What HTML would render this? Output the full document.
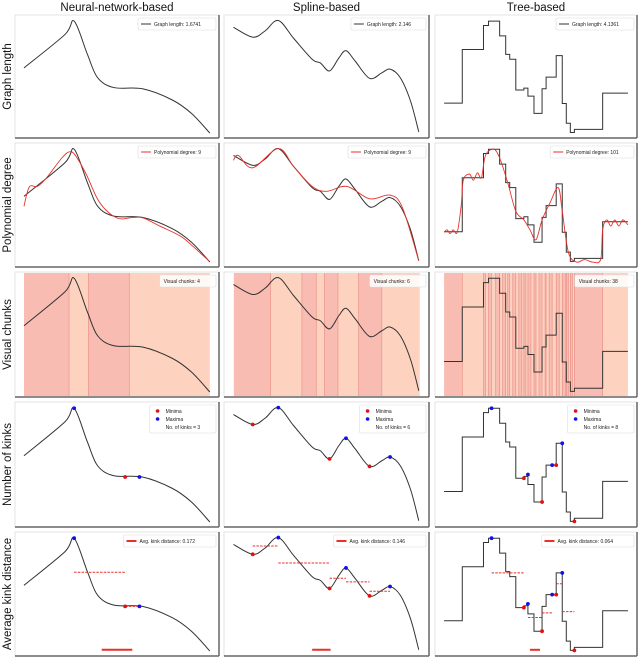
<!DOCTYPE html>
<html><head><meta charset="utf-8"><style>
body{margin:0;background:#fff;}
svg{display:block;font-family:"Liberation Sans",sans-serif;}
</style></head><body>
<svg id="fig" width="640" height="658" viewBox="0 0 640 658"></svg>
<script>
// ---- data (x: fraction across panel, y: fraction from panel top) ----
const colTitles = ["Neural-network-based","Spline-based","Tree-based"];
const rowTitles = ["Graph length","Polynomial degree","Visual chunks","Number of kinks","Average kink distance"];
const graphLengths = ["1.6741","2.146","4.1361"];
const polyDegrees = ["9","9","101"];
const chunkCounts = ["4","6","38"];
const kinkCounts = ["3","6","8"];
const avgKinkDist = ["0.172","0.146","0.064"];
const nnX = [0.044,0.244,0.29,0.355,0.405,0.485,0.625,0.77,0.865,0.955];
const nnY = [0.43,0.16,0.05,0.32,0.51,0.59,0.60,0.69,0.80,0.96];
const splX = [0.046,0.14,0.2,0.265,0.34,0.43,0.47,0.515,0.56,0.595,0.64,0.71,0.77,0.81,0.86,0.91,0.95];
const splY = [0.10,0.18,0.13,0.045,0.19,0.36,0.39,0.455,0.35,0.29,0.375,0.515,0.47,0.44,0.51,0.70,0.95];
const treeX = [0.045,0.135,0.24,0.265,0.32,0.35,0.37,0.40,0.44,0.46,0.49,0.53,0.55,0.60,0.63,0.65,0.67,0.69,0.83,0.955];
const treeY = [0.716,0.28,0.085,0.05,0.17,0.32,0.36,0.61,0.595,0.66,0.80,0.60,0.505,0.33,0.72,0.88,0.955,0.93,0.635];
const nnPolyX = [0.044,0.07,0.11,0.155,0.23,0.27,0.3,0.35,0.415,0.5,0.58,0.63,0.71,0.81,0.87,0.95];
const nnPolyY = [0.51,0.355,0.35,0.28,0.12,0.07,0.11,0.255,0.48,0.605,0.60,0.605,0.67,0.75,0.83,0.95];
const splPolyX = [0.046,0.07,0.14,0.265,0.34,0.43,0.5,0.6,0.71,0.81,0.87,0.95];
const splPolyY = [0.14,0.10,0.2,0.045,0.19,0.35,0.39,0.35,0.45,0.42,0.52,0.95];
const treePolyX = [0.045,0.06,0.075,0.09,0.11,0.13,0.14,0.17,0.19,0.21,0.23,0.25,0.29,0.32,0.36,0.40,0.44,0.47,0.50,0.53,0.57,0.61,0.63,0.66,0.70,0.74,0.78,0.82,0.83,0.85,0.87,0.89,0.91,0.93,0.955];
const treePolyY = [0.72,0.70,0.73,0.70,0.72,0.5,0.3,0.25,0.30,0.24,0.28,0.1,0.05,0.12,0.32,0.55,0.62,0.70,0.78,0.62,0.48,0.36,0.55,0.88,0.96,0.94,0.96,0.94,0.70,0.62,0.67,0.62,0.67,0.62,0.66];
const chunksNN = [0.044,0.265,0.36,0.56,0.955];
const chunksSpl = [0.048,0.227,0.38,0.45,0.49,0.556,0.657,0.77,0.955];
const chunksTree = [0.045,0.135,0.24,0.25,0.265,0.28,0.30,0.32,0.335,0.35,0.36,0.37,0.385,0.40,0.415,0.43,0.44,0.45,0.46,0.475,0.49,0.50,0.515,0.53,0.545,0.55,0.565,0.58,0.60,0.615,0.63,0.645,0.65,0.66,0.67,0.68,0.69,0.83,0.955];
const kinksNNX = [0.29,0.54,0.61], kinksNNY = [0.05,0.6,0.6], kinksNNT = ["max","min","max"];
const kinksSplX = [0.14,0.265,0.515,0.595,0.71,0.81], kinksSplY = [0.18,0.045,0.455,0.29,0.515,0.44], kinksSplT = ["min","max","min","max","min","max"];
const kinksTreeX = [0.28,0.44,0.46,0.53,0.58,0.60,0.63,0.69], kinksTreeY = [0.05,0.61,0.58,0.80,0.505,0.505,0.33,0.955], kinksTreeT = ["max","min","max","min","max","min","max","min"];
const avgBarX = [[0.425,0.575],[0.43,0.52],[0.47,0.52]];

const colL = [15,224,435], colR = [219,429,637];
const rowT = [15,143,272,402,532], rowB = [138,267,397,527,656];
const NS = "http://www.w3.org/2000/svg";
const svg = document.getElementById("fig");
function mk(tag, attrs, parent){const e=document.createElementNS(NS,tag);for(const k in attrs)e.setAttribute(k,attrs[k]);(parent||svg).appendChild(e);return e;}
function sx(c,v){return colL[c]+v*(colR[c]-colL[c]);}
function sy(r,v){return rowT[r]+v*(rowB[r]-rowT[r]);}
function smoothPath(c,r,xs,ys){
  const p=xs.map((x,i)=>[sx(c,x),sy(r,ys[i])]);
  let d="M"+p[0][0]+","+p[0][1];
  for(let i=0;i<p.length-1;i++){
    const p0=p[Math.max(0,i-1)],p1=p[i],p2=p[i+1],p3=p[Math.min(p.length-1,i+2)];
    const c1=[p1[0]+(p2[0]-p0[0])/6,p1[1]+(p2[1]-p0[1])/6];
    const c2=[p2[0]-(p3[0]-p1[0])/6,p2[1]-(p3[1]-p1[1])/6];
    d+=" C"+c1[0]+","+c1[1]+" "+c2[0]+","+c2[1]+" "+p2[0]+","+p2[1];
  }
  return d;
}
function stepPath(c,r,xs,ys){
  let d="M"+sx(c,xs[0])+","+sy(r,ys[0]);
  for(let i=1;i<xs.length;i++){
    d+=" H"+sx(c,xs[i]);
    if(i<ys.length) d+=" V"+sy(r,ys[i]);
  }
  return d;
}
function drawCurve(c,r,g){
  let d = c===0?smoothPath(c,r,nnX,nnY):c===1?smoothPath(c,r,splX,splY):stepPath(c,r,treeX,treeY);
  const p=mk("path",{d:d,fill:"none",stroke:"#333","stroke-width":1},g);
  
  
}
function legend(c,r,g,lines,sym){
  const w = Math.max(...lines.map(s=>s.length))*2.9+(sym?16:6)+4;
  const h = lines.length*8+4;
  const x = colR[c]-w-3, y = rowT[r]+3;
  const box=mk("rect",{x:x,y:y,width:w,height:h,fill:"#fff","fill-opacity":0.85,stroke:"#ddd","stroke-width":0.6,rx:1.5},g);
  
  
  lines.forEach((s,i)=>{
    const ty=y+8+i*8;
    if(sym&&sym[i]){
      if(sym[i].type==="line") mk("line",{x1:x+3,x2:x+13,y1:ty-2,y2:ty-2,stroke:sym[i].color,"stroke-width":sym[i].w||1},g);
      else mk("circle",{cx:x+8,cy:ty-2,r:1.8,fill:sym[i].color},g);
    }
    const t=mk("text",{x:x+(sym?16:4),y:ty,"font-size":5,fill:"#222"},g);
    t.textContent=s;
    
    
  });
}
// column & row titles
colTitles.forEach((s,c)=>{
  const t=mk("text",{x:(colL[c]+colR[c])/2,y:11,"font-size":11.5,"text-anchor":"middle",fill:"#111"});
  t.textContent=s;
  
  
});
rowTitles.forEach((s,r)=>{
  const cy=(rowT[r]+rowB[r])/2;
  const t=mk("text",{x:0,y:0,"font-size":11.5,"text-anchor":"middle",fill:"#111",transform:"translate(11,"+cy+") rotate(-90)"});
  t.textContent=s;
  
  
});
const redCurves=[[nnPolyX,nnPolyY],[splPolyX,splPolyY],[treePolyX,treePolyY]];
const chunkSets=[chunksNN,chunksSpl,chunksTree];
const kinkSets=[[kinksNNX,kinksNNY,kinksNNT],[kinksSplX,kinksSplY,kinksSplT],[kinksTreeX,kinksTreeY,kinksTreeT]];
for(let r=0;r<5;r++)for(let c=0;c<3;c++){
  const g=mk("g",{});
  
  
  const x0=colL[c],y0=rowT[r],w=colR[c]-x0,h=rowB[r]-y0;
  mk("rect",{x:x0,y:y0,width:w,height:h,fill:"#fff",stroke:"#ddd","stroke-width":0.8},g);
  if(r===2){
    const ch=chunkSets[c];
    for(let i=0;i<ch.length-1;i++){
      const b=mk("rect",{x:sx(c,ch[i]),y:y0+1,width:sx(c,ch[i+1])-sx(c,ch[i]),height:h-2,fill:i%2===0?"#f8bcb2":"#fdd3bf"},g);
      
      
      if(i>0) mk("line",{x1:sx(c,ch[i]),x2:sx(c,ch[i]),y1:y0+1,y2:y0+h-1,stroke:"#e98a80","stroke-width":0.6},g);
    }
  }
  drawCurve(c,r,g);
  if(r===0) legend(c,r,g,["Graph length: "+graphLengths[c]],[{type:"line",color:"#333"}]);
  if(r===1){
    const rc=mk("path",{d:smoothPath(c,r,redCurves[c][0],redCurves[c][1]),fill:"none",stroke:"#e8302a","stroke-width":0.9},g);
    
    
    legend(c,r,g,["Polynomial degree: "+polyDegrees[c]],[{type:"line",color:"#e8302a"}]);
  }
  if(r===2) legend(c,r,g,["Visual chunks: "+chunkCounts[c]],null);
  if(r>=3){
    const [kx,ky,kt]=kinkSets[c];
    if(r===4){
      for(let i=0;i<kx.length-1;i++){
        const my=(ky[i]+ky[i+1])/2;
        const l=mk("line",{x1:sx(c,kx[i]),x2:sx(c,kx[i+1]),y1:sy(r,my),y2:sy(r,my),stroke:"#e8302a","stroke-width":1,"stroke-dasharray":"2.5,1.2"},g);
        
        
      }
      const bar=mk("line",{x1:sx(c,avgBarX[c][0]),x2:sx(c,avgBarX[c][1]),y1:sy(r,0.95),y2:sy(r,0.95),stroke:"#e8302a","stroke-width":2},g);
      
      
    }
    kx.forEach((x,i)=>{
      const m=mk("circle",{cx:sx(c,x),cy:sy(r,ky[i]),r:1.9,fill:kt[i]==="max"?"#1010ee":"#e01010"},g);
      
      
    });
    if(r===3) legend(c,r,g,["Minima","Maxima","No. of kinks = "+kinkCounts[c]],[{type:"dot",color:"#e01010"},{type:"dot",color:"#1010ee"},null]);
    else legend(c,r,g,["Avg. kink distance: "+avgKinkDist[c]],[{type:"line",color:"#e8302a",w:2}]);
  }
  // shadowed frame (bottom/right darker)
  mk("line",{x1:x0,x2:x0+w,y1:y0+h,y2:y0+h,stroke:"#666","stroke-width":1.5},g);
  mk("line",{x1:x0+w,x2:x0+w,y1:y0,y2:y0+h,stroke:"#666","stroke-width":1.5},g);
}
</script>
</body></html>
